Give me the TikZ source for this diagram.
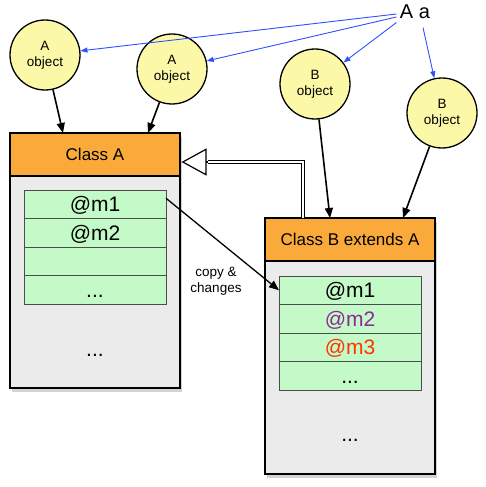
\documentclass[tikz,border=0pt]{standalone}
\usepackage{fontspec}
\setmainfont{Liberation Sans}
\usetikzlibrary{arrows.meta,positioning,shadows}
\definecolor{headorange}{HTML}{FAAA3A}
\definecolor{bodygray}{HTML}{EBEBEB}
\definecolor{slotgreen}{HTML}{C4FAC8}
\definecolor{objyellow}{HTML}{FBF9A7}
\definecolor{refblue}{HTML}{2E50FF}
\definecolor{overpurple}{HTML}{8E2A96}
\definecolor{newred}{HTML}{FF3300}
\tikzset{
    %Define standard arrow tip
    >={Triangle[length=10pt,width=8pt]},
    classbody/.style={
      rectangle,
      draw=black, line width=2pt,
      fill=bodygray,
      outer sep=0pt,
      minimum width=170pt,
      drop shadow={shadow xshift=2pt, shadow yshift=-4pt, opacity=0.35}},
    classhead/.style={
      rectangle,
      draw=black, line width=2pt,
      fill=headorange,
      outer sep=0pt,
      minimum width=170pt,
      minimum height=43pt,
      font=\fontsize{17}{17}\selectfont},
    slot/.style={
      rectangle,
      draw=black!70, line width=0.8pt,
      fill=slotgreen,
      outer sep=0pt, inner sep=0pt,
      minimum width=142pt,
      minimum height=28.5pt,
      text height=16pt, text depth=1pt,
      font=\fontsize{21}{21}\selectfont},
    obj/.style={
      circle,
      draw=black, line width=1.3pt,
      fill=objyellow,
      minimum size=70pt,
      inner sep=0pt,
      align=center,
      font=\fontsize{13.5}{16}\selectfont},
    refarrow/.style={
      draw=refblue, line width=0.9pt,
      -{Triangle[length=7pt,width=5pt]}},
    link/.style={->, line width=1.6pt},
}
\begin{document}
\begin{tikzpicture}[x=1pt,y=-1pt]
    \useasboundingbox (0,0) rectangle (485,487);
    % class A
    \node (clsA) [classbody, minimum height=255pt] at (95,260.5) {};
    \node (hdrA) [classhead] [below=0pt of clsA.north] {Class A};
    \node (rowA1) [slot] [below=14pt of hdrA] {@m1};
    \node (rowA2) [slot] [below=0pt of rowA1] {@m2};
    \node (rowA3) [slot] [below=0pt of rowA2] {};
    \node (rowA4) [slot] [below=0pt of rowA3] {...};
    \node (moreA) [font=\fontsize{21}{21}\selectfont, anchor=base] at (95,356) {...};
    % class B
    \node (clsB) [classbody, minimum height=256pt] at (350,346) {};
    \node (hdrB) [classhead] [below=0pt of clsB.north] {Class B extends A};
    \node (rowB1) [slot] [below=15pt of hdrB] {@m1};
    \node (rowB2) [slot, text=overpurple] [below=0pt of rowB1] {@m2};
    \node (rowB3) [slot, text=newred] [below=0pt of rowB2] {@m3};
    \node (rowB4) [slot] [below=0pt of rowB3] {...};
    \node (moreB) [font=\fontsize{21}{21}\selectfont, anchor=base] at (350,441) {...};
    % objects
    \node (objA1) [obj] at (45,55) {A\\object};
    \node (objA2) [obj] at (172,69) {A\\object};
    \node (objB1) [obj] at (315,84) {B\\object};
    \node (objB2) [obj] at (442,113) {B\\object};
    \node (decl) [font=\fontsize{20}{20}\selectfont] at (415,12) {A a};
    \draw [refarrow] ([yshift=-2pt]decl.west) -- (objA1);
    \draw [refarrow] ([yshift=-5pt]decl.west) -- (objA2);
    \draw [refarrow] (decl.south west) -- (objB1);
    \draw [refarrow] ([xshift=8pt,yshift=-5pt]decl.south) -- (objB2);
    \draw [link] (objA1) -- ([xshift=53pt]hdrA.north west);
    \draw [link] (objA2) -- ([xshift=138pt]hdrA.north west);
    \draw [link] (objB1) -- ([xshift=65pt]hdrB.north west);
    \draw [link] (objB2) -- ([xshift=138pt]hdrB.north west);
    % inheritance
    \coordinate (tip) at ([xshift=1.5pt,yshift=-7.5pt]hdrA.east);
    \coordinate (tribase) at ([xshift=26pt]tip);
    \draw [double, double distance=2.5pt, line width=0.8pt]
          ([xshift=38pt]hdrB.north west) |- (tribase);
    \draw [-{Triangle[open,length=25pt,width=27pt]}, line width=1.2pt]
          (tribase) -- (tip);
    % copy
    \draw [link, line width=1.3pt] ([yshift=6pt]rowA1.east) -- (rowB1.west);
    \node (copylbl) [align=center, font=\fontsize{13.5}{16.5}\selectfont]
          at (216,281) {copy \&\\changes};
\end{tikzpicture}
\end{document}
